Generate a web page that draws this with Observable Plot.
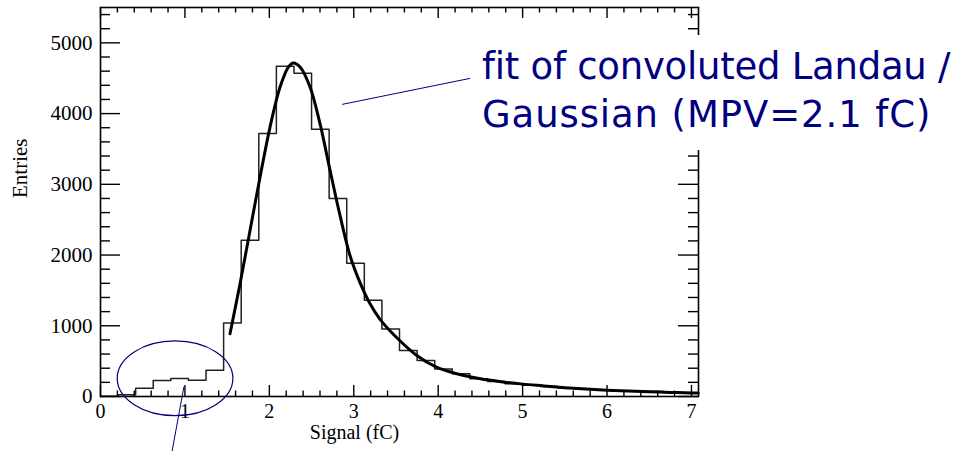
<!DOCTYPE html>
<html>
<head>
<meta charset="utf-8">
<script src="https://cdn.jsdelivr.net/npm/d3@7"></script>
<script src="https://cdn.jsdelivr.net/npm/@observablehq/plot@0.6"></script>
<style>
  html, body { margin: 0; padding: 0; background: #fff; }
  #wrap { position: relative; width: 959px; height: 451px; overflow: hidden; background: #fff; }
  #note { position: absolute; left: 474px; top: 35px; width: 485px; height: 115px; background: #fff;
          font-family: "DejaVu Sans", sans-serif; font-size: 37px; line-height: 48px; color: #000080;
          padding: 8px 0 0 8px; box-sizing: border-box; white-space: nowrap; }
  #note .l1 { letter-spacing: -0.25px; }
  #note .l2 { letter-spacing: 0.9px; }
</style>
</head>
<body>
<div id="wrap"></div>
<script>
// ---- data ----
const binWidth = 5 / 24; // fC per bin
const counts = [5, 25, 115, 225, 255, 230, 370, 1040, 2210, 3720, 4670, 4570, 3780, 2800, 1885, 1360,
                955, 650, 510, 390, 320, 250, 212, 180, 160, 140, 120, 105, 90, 80, 75, 70, 55, 50];
const fitX = [1.534, 1.653, 1.771, 1.890, 2.008, 2.127, 2.225, 2.284, 2.364, 2.482, 2.600, 2.719, 2.837,
              2.956, 3.074, 3.193, 3.311, 3.51, 3.746, 3.98, 4.22, 4.50, 4.77, 5.0, 5.25, 5.5, 5.75,
              6.0, 6.25, 6.5, 6.75, 7.0, 7.08];
const fitY = [887, 1594, 2348, 3102, 3809, 4375, 4658, 4715, 4658, 4375, 3857, 3197, 2560,
              1990, 1610, 1310, 1090, 830, 580, 414, 321, 250, 205, 175, 150, 125, 105,
              90, 78, 67, 58, 50, 48];
const xMajor = [0, 1, 2, 3, 4, 5, 6, 7];
const xMinor = [0.2,0.4,0.6,0.8,1.2,1.4,1.6,1.8,2.2,2.4,2.6,2.8,3.2,3.4,3.6,3.8,4.2,4.4,4.6,4.8,
                5.2,5.4,5.6,5.8,6.2,6.4,6.6,6.8];
const yMajor = [0, 1000, 2000, 3000, 4000, 5000];
const yMinor = [200,400,600,800,1200,1400,1600,1800,2200,2400,2600,2800,3200,3400,3600,3800,
                4200,4400,4600,4800,5200,5400];
const xLabel = "Signal (fC)";
const yLabel = "Entries";
const noteLines = ["fit of convoluted Landau /", "Gaussian (MPV=2.1 fC)"];
const pointers = [
  {x1: 2.861, y1: 4130, x2: 4.378, y2: 4498},
  {x1: 0.989, y1: 141, x2: 0.847, y2: -778}
];
const ellipse = {cx: 0.889, cy: 250, rx: 0.685, ry: 528};

// ---- layout ----
const W = 959, H = 451;
const mL = 100, mR = 261, mT = 7, mB = 55;
const innerW = W - mL - mR, innerH = H - mT - mB;
const serif = "Liberation Serif, Times New Roman, serif";

const histPts = [{x: 0, y: 0}]
  .concat(counts.map((c, i) => ({x: i * binWidth, y: c})))
  .concat([{x: counts.length * binWidth, y: counts[counts.length - 1]}]);
const fitPts = fitX.map((x, i) => ({x, y: fitY[i]}));
const navy = "#000080";

const chart = Plot.plot({
  width: W, height: H,
  marginLeft: mL, marginRight: mR, marginTop: mT, marginBottom: mB,
  style: {background: "#fff", color: "#000", overflow: "visible"},
  x: {domain: [0, counts.length * binWidth]},
  y: {domain: [0, 5500]},
  marks: [
    Plot.line(histPts, {x: "x", y: "y", curve: "step-after", stroke: "#222", strokeWidth: 1.5}),
    Plot.line(fitPts, {x: "x", y: "y", curve: "catmull-rom", stroke: "#000", strokeWidth: 3}),
    Plot.frame({stroke: "#000", strokeWidth: 1.6}),
    // bottom & top ticks (inward)
    Plot.ruleX(xMajor, {x: d => d, insetTop: innerH - 11, stroke: "#000", strokeWidth: 1.4}),
    Plot.ruleX(xMinor, {x: d => d, insetTop: innerH - 5.5, stroke: "#000", strokeWidth: 1.4}),
    Plot.ruleX(xMajor, {x: d => d, insetBottom: innerH - 11, stroke: "#000", strokeWidth: 1.4}),
    Plot.ruleX(xMinor, {x: d => d, insetBottom: innerH - 5.5, stroke: "#000", strokeWidth: 1.4}),
    // left & right ticks (inward)
    Plot.ruleY(yMajor, {y: d => d, insetRight: innerW - 20, stroke: "#000", strokeWidth: 1.4}),
    Plot.ruleY(yMinor, {y: d => d, insetRight: innerW - 10, stroke: "#000", strokeWidth: 1.4}),
    Plot.ruleY(yMajor, {y: d => d, insetLeft: innerW - 20, stroke: "#000", strokeWidth: 1.4}),
    Plot.ruleY(yMinor, {y: d => d, insetLeft: innerW - 10, stroke: "#000", strokeWidth: 1.4}),
    Plot.axisX(xMajor, {anchor: "bottom", tickSize: 0, tickPadding: 7, fontSize: 20, fontFamily: serif,
                        tickFormat: d => String(d), label: null}),
    Plot.axisY(yMajor, {anchor: "left", tickSize: 0, tickPadding: 8, fontSize: 21, fontFamily: serif,
                        tickFormat: d => String(d), label: null}),
    Plot.text([xLabel], {text: d => d, frameAnchor: "bottom", dx: -45, dy: 42, fontSize: 20, fontFamily: serif, fill: "#000"}),
    Plot.text([yLabel], {text: d => d, frameAnchor: "left", dx: -80, dy: -4, rotate: -90, fontSize: 21, fontFamily: serif, fill: "#000"}),
    Plot.link(pointers, {x1: "x1", y1: "y1", x2: "x2", y2: "y2", stroke: navy, strokeWidth: 1})
  ]
});

const wrap = document.getElementById("wrap");
wrap.appendChild(chart);

// ellipse through the plot's own scales
function scaleFn(name) {
  const s = chart.scale(name);
  if (s && typeof s.apply === "function") return v => s.apply(v);
  const [d0, d1] = s.domain, [r0, r1] = s.range;
  return v => r0 + (v - d0) / (d1 - d0) * (r1 - r0);
}
const sx = scaleFn("x"), sy = scaleFn("y");
d3.select(chart).append("ellipse")
  .attr("cx", sx(ellipse.cx)).attr("cy", sy(ellipse.cy))
  .attr("rx", Math.abs(sx(ellipse.cx + ellipse.rx) - sx(ellipse.cx)))
  .attr("ry", Math.abs(sy(ellipse.cy + ellipse.ry) - sy(ellipse.cy)))
  .attr("fill", "none").attr("stroke", navy).attr("stroke-width", 1.2);

const note = document.createElement("div");
note.id = "note";
note.innerHTML = noteLines.map((t, i) => `<div class="l${i + 1}">${t}</div>`).join("");
wrap.appendChild(note);
</script>
</body>
</html>
